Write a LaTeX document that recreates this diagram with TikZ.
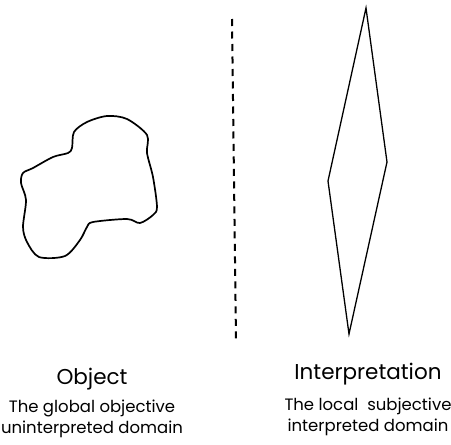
\documentclass[tikz,border=0pt]{standalone}
\usepackage{fontspec}
\setmainfont{Poppins}
\usetikzlibrary{positioning}

\begin{document}
\begin{tikzpicture}[
    x=1pt, y=-1pt,
    outline/.style={line width=1.7pt, line join=round},
    divider/.style={line width=2pt, dash pattern=on 7pt off 5.5pt},
    title/.style={font=\fontsize{21.5}{24}\selectfont, inner sep=0pt, anchor=base},
    caption/.style={font=\fontsize{16.5}{21}\selectfont, align=center, inner sep=0pt, anchor=base}
]
    \useasboundingbox (0,0) rectangle (451,445);

    % the object: an irregular blob
    \draw[outline] plot[smooth cycle, tension=0.5] coordinates {
        (74,132) (87,122) (107,116) (127,119) (147,135) (147,153) (153,177)
        (157,207) (153,215) (140,223) (127,219) (93,222) (87,227) (80,240)
        (65,256) (39,257) (27,242) (23,227) (26,200) (21,183) (23,173)
        (33,168) (53,157) (68,153) (72,148)};

    % the interpretation: a thin diamond
    \draw[outline, line width=1.3pt, line join=miter] (366,8) -- (387,162) -- (349,334) -- (328,181) -- cycle;

    % dividing line
    \coordinate (divtop) at (232,19);
    \coordinate (divbot) at (236,340);
    \draw[divider] (divtop) -- (divbot);

    \node[title] (obj) at (92,384) {Object};
    \node[caption, below=49pt of obj.base, anchor=base] (objtxt) {The global objective\\uninterpreted domain};
    \node[title] (interp) at (368,379) {Interpretation};
    \node[caption, below=52pt of interp.base, anchor=base] (interptxt) {The local \ subjective\\interpreted domain};
\end{tikzpicture}
\end{document}
